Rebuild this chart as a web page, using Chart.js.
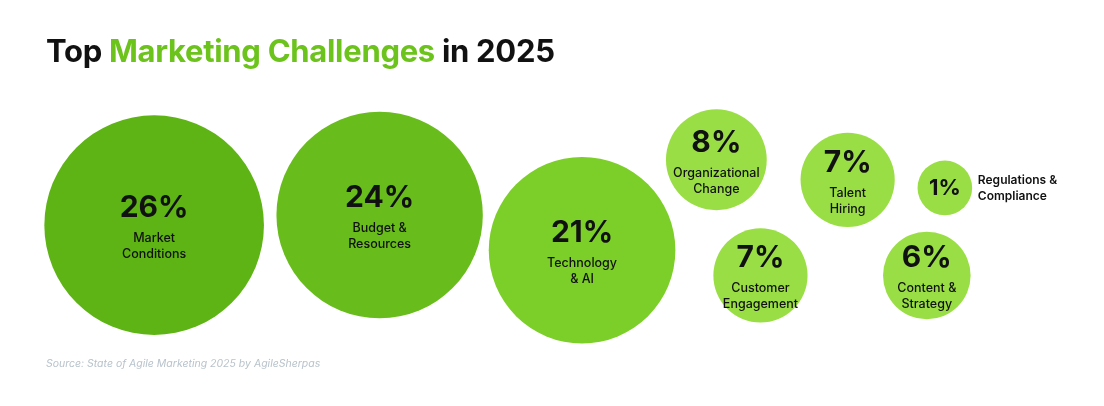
<!DOCTYPE html>
<html><head><meta charset="utf-8">
<script src="https://cdn.jsdelivr.net/npm/chart.js@4"></script>
<style>
html,body{margin:0;padding:0;background:#fff;width:1104px;height:406px;overflow:hidden;font-family:Inter,"Noto Sans",sans-serif;position:relative}
#t{position:absolute;left:46px;top:32px;font-size:31px;font-weight:700;color:#111;letter-spacing:-0.3px;z-index:2}
#t span{color:#6cc31c}
#s{position:absolute;left:46px;top:357px;font-size:10.5px;font-style:italic;color:#b8c3cb;z-index:2}
canvas{position:absolute}
</style></head><body>
<canvas id="c"></canvas>
<div id="t">Top <span>Marketing Challenges</span> in 2025</div>
<div id="s">Source: State of Agile Marketing 2025 by AgileSherpas</div>
<script>
const categories=[["Market","Conditions"],["Budget &","Resources"],["Technology","& AI"],["Organizational","Change"],["Customer","Engagement"],["Talent","Hiring"],["Content &","Strategy"],["Regulations &","Compliance"]];
const values=[26,24,21,8,7,7,6,1];
const posX=[155,380,582,716,760,847,926,944];
const posY=[225,215,250,160,275,180,275,188];
const colors=["#5db414","#68bc1b","#7ccf28","#9ade45","#9ade45","#9ade45","#9ade45","#9ade45"];
const radius=v=>24+3.3*v;
const data=values.map((v,i)=>({x:posX[i],y:posY[i],r:radius(v)}));
const R=Math.ceil(Math.max(...values.map(radius)))+1;
const cv=document.getElementById('c');
cv.width=1104+2*R;cv.height=406+2*R;cv.style.left=(-R)+'px';cv.style.top=(-R)+'px';
const labelPlugin={id:'lbl',afterDatasetsDraw(ch){
 const ctx=ch.ctx;const meta=ch.getDatasetMeta(0);
 meta.data.forEach((el,i)=>{
  const v=values[i];ctx.save();ctx.fillStyle="#111";ctx.textBaseline="middle";
  if(v<2){ctx.textAlign="center";ctx.font="700 22px Inter";ctx.fillText(v+"%",el.x,el.y);
   ctx.textAlign="left";ctx.font="600 12px Inter";ctx.fillText(categories[i][0],el.x+33,el.y-8);ctx.fillText(categories[i][1],el.x+33,el.y+8);}
  else{ctx.textAlign="center";ctx.font="700 30px Inter";ctx.fillText(v+"%",el.x,el.y-17);
   ctx.font="500 12.5px Inter";ctx.fillText(categories[i][0],el.x,el.y+13);ctx.fillText(categories[i][1],el.x,el.y+29);}
  ctx.restore();});
}};
new Chart(cv,{type:'bubble',
 data:{datasets:[{data,backgroundColor:colors,borderWidth:0,hoverBorderWidth:0,clip:false}]},
 options:{responsive:false,animation:false,layout:{padding:0},
  plugins:{legend:{display:false},tooltip:{enabled:false}},
  scales:{x:{type:'linear',min:0,max:1104,display:false},y:{type:'linear',min:0,max:406,reverse:true,display:false}}},
 plugins:[labelPlugin]});
</script></body></html>
